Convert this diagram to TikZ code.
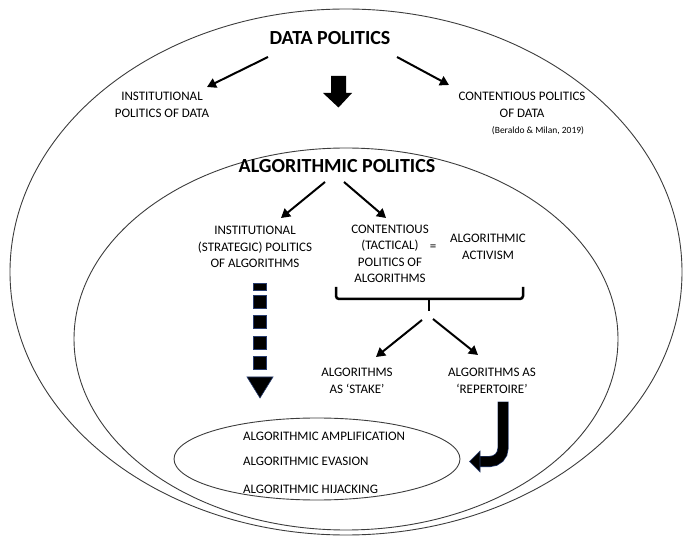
\documentclass[tikz,border=0pt]{standalone}
\usepackage{fontspec}
\setmainfont{Carlito}
\usetikzlibrary{arrows.meta,shapes.geometric}
\definecolor{edge}{RGB}{60,60,60}
\definecolor{dblue}{RGB}{40,60,110}
\tikzset{
  ring/.style={draw=edge, line width=0.9pt, ellipse, inner sep=0pt},
  title/.style={font=\fontsize{20}{24}\selectfont\bfseries, inner sep=0pt},
  txt/.style={font=\fontsize{13}{16.5}\selectfont, align=center, inner sep=0pt},
  small/.style={font=\fontsize{9.5}{11}\selectfont, inner sep=0pt},
  arr/.style={line width=2pt, -{Triangle[length=9pt,width=10pt]}},
  blk/.style={fill=black, draw=dblue, line width=0.6pt}
}
\begin{document}
\begin{tikzpicture}[x=1pt,y=-1pt]
\useasboundingbox (0,0) rectangle (683,537);
% ellipses
\node[ring, minimum width=672pt, minimum height=526pt] (outer) at (346,272) {};
\node[ring, minimum width=544pt, minimum height=382pt] (inner) at (346,339) {};
\node[ring, minimum width=286pt, minimum height=82pt] (small) at (317,459) {};
% titles
\node[title] (dp) at (330,38) {DATA POLITICS};
\node[title] (ap) at (337,166) {ALGORITHMIC POLITICS};
% texts
\node[txt] (ipd) at (162,105) {INSTITUTIONAL\\POLITICS OF DATA};
\node[txt] (cpd) at (522,105) {CONTENTIOUS POLITICS\\OF DATA};
\node[small] (cite) at (538,131) {(Beraldo \& Milan, 2019)};
\node[txt] (isp) at (255,247) {INSTITUTIONAL\\(STRATEGIC) POLITICS\\OF ALGORITHMS};
\node[txt] (ctp) at (390,254) {CONTENTIOUS\\(TACTICAL)\\POLITICS OF\\ALGORITHMS};
\node[txt] (eq) at (433,248) {=};
\node[txt] (act) at (488,247) {ALGORITHMIC\\ACTIVISM};
\node[txt] (stake) at (357,381) {ALGORITHMS\\AS `STAKE'};
\node[txt] (rep) at (492,381) {ALGORITHMS AS\\`REPERTOIRE'};
\node[txt, anchor=west] (amp) at (243,436) {ALGORITHMIC AMPLIFICATION};
\node[txt, anchor=west] (eva) at (243,461) {ALGORITHMIC EVASION};
\node[txt, anchor=west] (hij) at (243,489) {ALGORITHMIC HIJACKING};
% arrow coordinates
\coordinate (dpl) at (268,57); \coordinate (ipdt) at (207,87);
\coordinate (dpr) at (397,57); \coordinate (cpdt) at (449,85);
\coordinate (apl) at (325,182); \coordinate (ispt) at (281,218);
\coordinate (apr) at (344,182); \coordinate (ctpt) at (386,218);
\coordinate (brl) at (422,320); \coordinate (stt) at (376,357);
\coordinate (brr) at (433,319); \coordinate (rept) at (478,355);
\draw[arr] (dpl) -- (ipdt);
\draw[arr] (dpr) -- (cpdt);
\draw[arr] (apl) -- (ispt);
\draw[arr] (apr) -- (ctpt);
\draw[arr] (brl) -- (stt);
\draw[arr] (brr) -- (rept);
% big arrow
\fill (331,76) -- (346,76) -- (346,93) -- (352,93) -- (338.5,107.5) -- (323,93) -- (331,93) -- cycle;
% dashed block arrow
\draw[blk] (253,283) rectangle (266,290);
\draw[dblue, line width=1.2pt] (253,283.5) -- (266,283.5);
\foreach \y in {295,315,336,356} {\draw[blk] (253,\y) rectangle (266,\y+13);}
\draw[blk] (247,377) -- (273,377) -- (260,398) -- cycle;
% brace
\draw[line width=2.5pt, rounded corners=3pt] (336,287) -- (336,299) -- (523,299) -- (523,287);
\draw[line width=2.5pt] (429,299) -- (429,311);
% J arrow
\draw[dblue, line width=11pt, rounded corners=13pt] (503,401.5) -- (503,461.5) -- (478,461.5);
\draw[black, line width=9.6pt, rounded corners=13pt] (503,402) -- (503,461.5) -- (477.5,461.5);
\draw[blk] (480,451) -- (480,472) -- (469.5,461.5) -- cycle;
\end{tikzpicture}
\end{document}
